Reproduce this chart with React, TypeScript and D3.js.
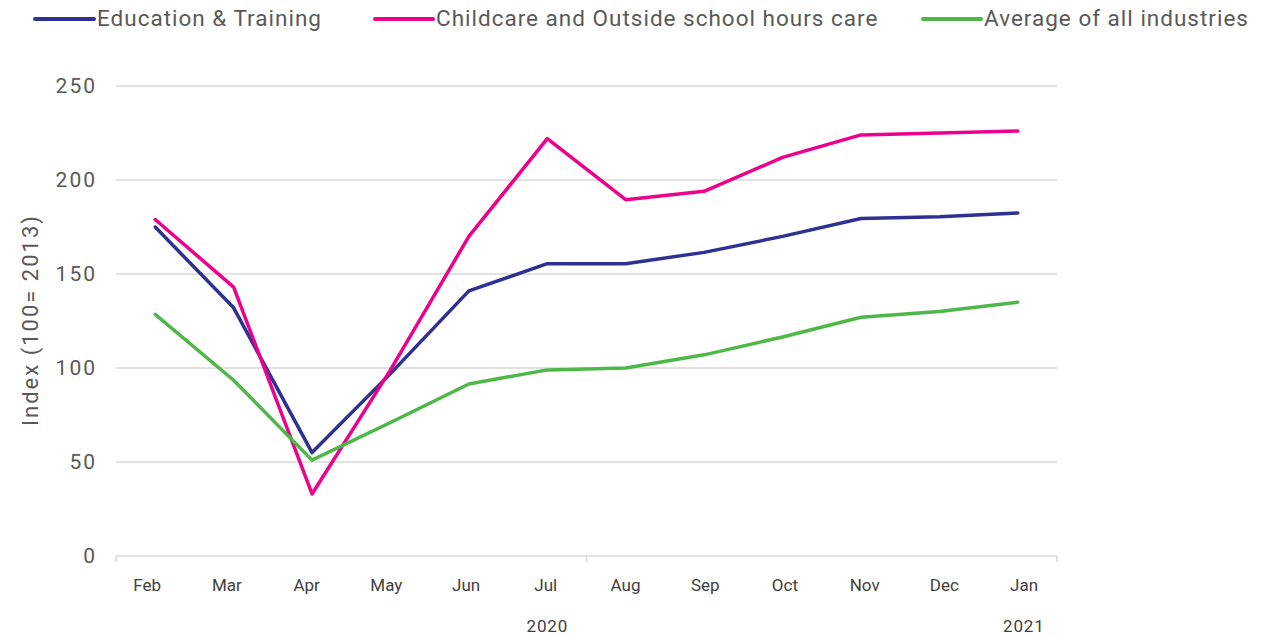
import React from "react";
import * as d3 from "d3";

const months = ["Feb", "Mar", "Apr", "May", "Jun", "Jul", "Aug", "Sep", "Oct", "Nov", "Dec", "Jan"];
const years = [
  { label: "2020", from: 0, to: 10 },
  { label: "2021", from: 11, to: 11 },
];
const educationTraining = [175, 132, 55, 97, 141, 155.5, 155.5, 161.5, 170, 179.5, 180.5, 182.5];
const childcareOSHC = [179, 143, 33, 99, 170, 222, 189.5, 194, 212, 224, 225, 226];
const averageAll = [128.5, 93.5, 51, 71, 91.5, 99, 100, 107, 116.5, 127, 130, 135];
const yTicks = [0, 50, 100, 150, 200, 250];

const series = [
  { name: "Education & Training", values: educationTraining, color: "#2E3192" },
  { name: "Childcare and Outside school hours care", values: childcareOSHC, color: "#EC008C" },
  { name: "Average of all industries", values: averageAll, color: "#4DB848" },
];

const W = 1276;
const H = 635;
const plot = { left: 116, right: 1057, top: 86, bottom: 556 };
const FONT = "Roboto, 'Noto Sans', sans-serif";
const TEXT = "#595959";
const GRID = "#d9d9d9";

export default function App() {
  const x = d3.scaleBand<string>().domain(months).range([plot.left, plot.right]);
  const xc = (m: string) => (x(m) ?? 0) + x.bandwidth() / 2;
  const y = d3.scaleLinear().domain([0, 250]).range([plot.bottom, plot.top]);
  const line = d3
    .line<number>()
    .x((_, i) => xc(months[i]))
    .y((d) => y(d));

  const legendItems = [
    { lx: 35, tx: 97 },
    { lx: 375, tx: 436 },
    { lx: 923, tx: 984 },
  ];

  return (
    <svg
      width={W}
      height={H}
      style={{ position: "absolute", left: 0, top: 0, background: "#fff" }}
      fontFamily={FONT}
    >
      {/* gridlines */}
      {yTicks.map((t) => (
        <line
          key={t}
          x1={plot.left}
          x2={plot.right}
          y1={y(t)}
          y2={y(t)}
          stroke={GRID}
          strokeWidth={1.5}
        />
      ))}
      {/* category axis tick marks */}
      {[0, 6, 12].map((k) => {
        const xx = plot.left + k * x.step();
        return (
          <line key={k} x1={xx} x2={xx} y1={y(0)} y2={y(0) + 6} stroke={GRID} strokeWidth={1.5} />
        );
      })}
      {/* y tick labels */}
      {yTicks.map((t) => (
        <text
          key={t}
          x={97}
          y={y(t)}
          dy="0.35em"
          textAnchor="end"
          fontSize={21}
          letterSpacing={2}
          fill={TEXT}
        >
          {t}
        </text>
      ))}
      {/* y axis title */}
      <text
        transform={`translate(38, ${(plot.top + plot.bottom) / 2 - 1}) rotate(-90)`}
        textAnchor="middle"
        fontSize={22}
        letterSpacing={2}
        fill={TEXT}
      >
        Index (100= 2013)
      </text>
      {/* x labels */}
      {months.map((m, i) => (
        <text
          key={m + i}
          x={xc(m) - 8 + i * 1.3}
          y={591}
          textAnchor="middle"
          fontSize={17}
          fill="#404040"
        >
          {m}
        </text>
      ))}
      {years.map((yr) => {
        const cx = (xc(months[yr.from]) + xc(months[yr.to])) / 2 + (yr.label === "2021" ? 6 : 0);
        return (
          <text
            key={yr.label}
            x={cx}
            y={632}
            textAnchor="middle"
            fontSize={17}
            letterSpacing={0.8}
            fill="#404040"
          >
            {yr.label}
          </text>
        );
      })}
      {/* lines */}
      {series.map((s) => (
        <path
          key={s.name}
          d={line(s.values) ?? ""}
          fill="none"
          stroke={s.color}
          strokeWidth={3.5}
          strokeLinejoin="round"
          strokeLinecap="round"
        />
      ))}
      {/* legend */}
      {series.map((s, i) => (
        <g key={s.name}>
          <line
            x1={legendItems[i].lx}
            x2={legendItems[i].tx - 3}
            y1={19}
            y2={19}
            stroke={s.color}
            strokeWidth={4}
            strokeLinecap="round"
          />
          <text
            x={legendItems[i].tx}
            y={18}
            dy="0.35em"
            fontSize={22.5}
            letterSpacing={1}
            fill="#595959"
          >
            {s.name}
          </text>
        </g>
      ))}
    </svg>
  );
}
